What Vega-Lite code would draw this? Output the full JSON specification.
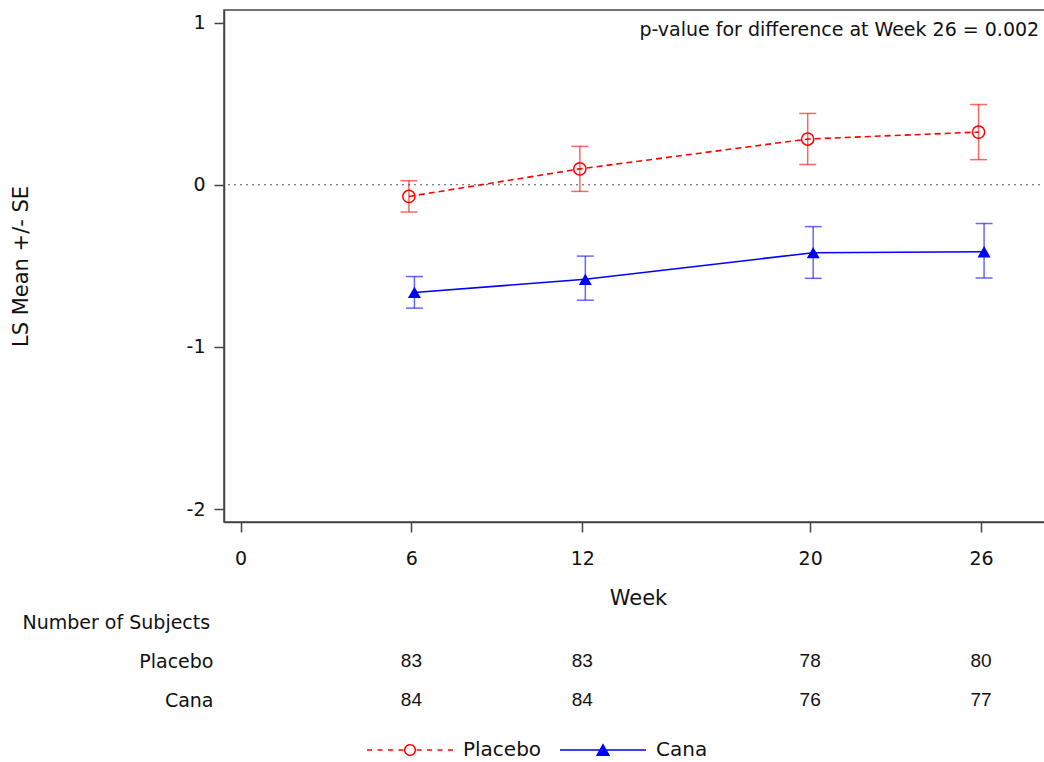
{
  "$schema": "https://vega.github.io/schema/vega-lite/v6.json",
  "autosize": {"type": "pad"},
  "padding": {"left": 9, "top": 9, "right": 0, "bottom": 0},
  "background": "white",
  "bounds": "flush",
  "spacing": 119.5,
  "datasets": {
    "lsm": [
      {"group": "Placebo", "week": 6, "mean": -0.072, "lo": -0.168, "hi": 0.025, "n": 83},
      {"group": "Placebo", "week": 12, "mean": 0.098, "lo": -0.041, "hi": 0.237, "n": 83},
      {"group": "Placebo", "week": 20, "mean": 0.282, "lo": 0.125, "hi": 0.44, "n": 78},
      {"group": "Placebo", "week": 26, "mean": 0.325, "lo": 0.155, "hi": 0.495, "n": 80},
      {"group": "Cana", "week": 6, "mean": -0.664, "lo": -0.761, "hi": -0.566, "n": 84},
      {"group": "Cana", "week": 12, "mean": -0.583, "lo": -0.712, "hi": -0.44, "n": 84},
      {"group": "Cana", "week": 20, "mean": -0.419, "lo": -0.577, "hi": -0.258, "n": 76},
      {"group": "Cana", "week": 26, "mean": -0.413, "lo": -0.575, "hi": -0.239, "n": 77}
    ]
  },
  "config": {
    "font": "DejaVu Sans",
    "view": {"stroke": "#444", "strokeWidth": 1.5},
    "axis": {
      "labelFont": "DejaVu Sans", "titleFont": "DejaVu Sans",
      "labelFontSize": 19, "titleFontSize": 21, "titleFontWeight": "normal",
      "labelColor": "#111", "titleColor": "#111",
      "domainColor": "#444", "domainWidth": 1.5,
      "tickColor": "#444", "tickWidth": 1.5, "tickSize": 10, "grid": false
    }
  },
  "resolve": {"scale": {"x": "independent", "y": "independent"}},
  "vconcat": [
    {
      "width": 828,
      "height": 512,
      "data": {"name": "lsm"},
      "encoding": {
        "x": {"type": "quantitative", "scale": {"domain": [-0.58, 28.49], "nice": false, "zero": false},
          "axis": {"values": [0, 6, 12, 20, 26], "title": "Week", "labelPadding": 17, "labelFlush": false, "titleY": 65, "titleBaseline": "top"}},
        "y": {"type": "quantitative", "scale": {"domain": [-2.08, 1.078], "nice": false, "zero": false},
          "axis": {"values": [-2, -1, 0, 1], "title": "LS Mean +/- SE", "labelPadding": 9,
            "labelExpr": "datum.value < 0 ? '-' + abs(datum.value) : '' + datum.value",
            "titleX": -196.5, "titleBaseline": "alphabetic"}}
      },
      "layer": [
        {
          "data": {"values": [{}]},
          "mark": {"type": "rule", "strokeDash": [2, 4], "color": "#555", "strokeWidth": 1},
          "encoding": {
            "y": {"datum": 0, "type": "quantitative", "scale": {"domain": [-2.08, 1.078], "nice": false, "zero": false},
              "axis": {"values": [-2, -1, 0, 1], "title": "LS Mean +/- SE", "labelPadding": 9,
                "labelExpr": "datum.value < 0 ? '-' + abs(datum.value) : '' + datum.value",
                "titleX": -196.5, "titleBaseline": "alphabetic"}}
          }
        },
        {
          "data": {"values": [{}]},
          "mark": {"type": "text", "text": "p-value for difference at Week 26 = 0.002", "align": "right", "baseline": "middle", "fontSize": 19, "font": "DejaVu Sans", "color": "#111"},
          "encoding": {
            "x": {"datum": 28.04, "type": "quantitative", "scale": {"domain": [-0.58, 28.49], "nice": false, "zero": false},
              "axis": {"values": [0, 6, 12, 20, 26], "title": "Week", "labelPadding": 17, "labelFlush": false, "titleY": 65, "titleBaseline": "top"}},
            "y": {"datum": 0.953, "type": "quantitative", "scale": {"domain": [-2.08, 1.078], "nice": false, "zero": false},
              "axis": {"values": [-2, -1, 0, 1], "title": "LS Mean +/- SE", "labelPadding": 9,
                "labelExpr": "datum.value < 0 ? '-' + abs(datum.value) : '' + datum.value",
                "titleX": -196.5, "titleBaseline": "alphabetic"}}
          }
        },
        {
          "transform": [{"filter": "datum.group === 'Placebo'"}],
          "layer": [
            {
              "mark": {"type": "rule", "color": "#ff0000", "opacity": 0.6, "strokeWidth": 1.5, "xOffset": -2.5},
              "encoding": {"x": {"field": "week"}, "y": {"field": "lo"}, "y2": {"field": "hi"}}
            },
            {
              "mark": {"type": "tick", "orient": "horizontal", "color": "#ff0000", "opacity": 0.6, "size": 17, "thickness": 1.5, "xOffset": -2.5},
              "encoding": {"x": {"field": "week"}, "y": {"field": "lo"}}
            },
            {
              "mark": {"type": "tick", "orient": "horizontal", "color": "#ff0000", "opacity": 0.6, "size": 17, "thickness": 1.5, "xOffset": -2.5},
              "encoding": {"x": {"field": "week"}, "y": {"field": "hi"}}
            },
            {
              "mark": {"type": "line", "strokeDash": [6, 4], "strokeWidth": 1.6, "xOffset": -2.5},
              "encoding": {
                "x": {"field": "week"},
                "y": {"field": "mean"},
                "color": {"field": "group", "type": "nominal",
                  "scale": {"domain": ["Placebo", "Cana"], "range": ["#ff0000", "#0000ff"]},
                  "legend": {"orient": "none", "legendX": 142, "legendY": 696, "direction": "horizontal", "title": null,
                    "symbolSize": 7396, "symbolStrokeWidth": 1.5, "labelFontSize": 20, "labelFont": "DejaVu Sans", "labelColor": "#111",
                    "labelOffset": 9, "columnPadding": 15, "padding": 0,
                    "encode": {"symbols": {"update": {
                      "shape": {"signal": "datum.value === 'Placebo' ? 'M-1,0H-0.884M-0.756,0H-0.64M-0.512,0H-0.396M-0.268,0H-0.152M0.152,0H0.268M0.396,0H0.512M0.64,0H0.756M0.884,0H1M0.123,0A0.123,0.123,0,1,1,-0.123,0A0.123,0.123,0,1,1,0.123,0Z' : 'M-1,0H1M0,-0.12L0.136,0.12L-0.136,0.12Z'"},
                      "fill": {"signal": "datum.value === 'Placebo' ? 'transparent' : '#0000ff'"},
                      "strokeDash": {"value": [1, 0]}
                    }}}}
                }
              }
            },
            {
              "mark": {"type": "point", "shape": "circle", "filled": false, "color": "#ff0000", "size": 150, "strokeWidth": 1.5, "opacity": 1, "xOffset": -2.5},
              "encoding": {"x": {"field": "week"}, "y": {"field": "mean"}}
            }
          ]
        },
        {
          "transform": [{"filter": "datum.group === 'Cana'"}],
          "layer": [
            {
              "mark": {"type": "rule", "color": "#0000ff", "opacity": 0.6, "strokeWidth": 1.5, "xOffset": 3},
              "encoding": {"x": {"field": "week"}, "y": {"field": "lo"}, "y2": {"field": "hi"}}
            },
            {
              "mark": {"type": "tick", "orient": "horizontal", "color": "#0000ff", "opacity": 0.6, "size": 17, "thickness": 1.5, "xOffset": 3},
              "encoding": {"x": {"field": "week"}, "y": {"field": "lo"}}
            },
            {
              "mark": {"type": "tick", "orient": "horizontal", "color": "#0000ff", "opacity": 0.6, "size": 17, "thickness": 1.5, "xOffset": 3},
              "encoding": {"x": {"field": "week"}, "y": {"field": "hi"}}
            },
            {
              "mark": {"type": "line", "strokeWidth": 1.6, "xOffset": 3},
              "encoding": {
                "x": {"field": "week"},
                "y": {"field": "mean"},
                "color": {"field": "group", "type": "nominal",
                  "scale": {"domain": ["Placebo", "Cana"], "range": ["#ff0000", "#0000ff"]},
                  "legend": {"orient": "none", "legendX": 142, "legendY": 696, "direction": "horizontal", "title": null,
                    "symbolSize": 7396, "symbolStrokeWidth": 1.5, "labelFontSize": 20, "labelFont": "DejaVu Sans", "labelColor": "#111",
                    "labelOffset": 9, "columnPadding": 15, "padding": 0,
                    "encode": {"symbols": {"update": {
                      "shape": {"signal": "datum.value === 'Placebo' ? 'M-1,0H-0.884M-0.756,0H-0.64M-0.512,0H-0.396M-0.268,0H-0.152M0.152,0H0.268M0.396,0H0.512M0.64,0H0.756M0.884,0H1M0.123,0A0.123,0.123,0,1,1,-0.123,0A0.123,0.123,0,1,1,0.123,0Z' : 'M-1,0H1M0,-0.12L0.136,0.12L-0.136,0.12Z'"},
                      "fill": {"signal": "datum.value === 'Placebo' ? 'transparent' : '#0000ff'"},
                      "strokeDash": {"value": [1, 0]}
                    }}}}
                }
              }
            },
            {
              "mark": {"type": "point", "shape": "triangle-up", "filled": true, "color": "#0000ff", "size": 170, "opacity": 1, "xOffset": 3},
              "encoding": {"x": {"field": "week"}, "y": {"field": "mean"}}
            }
          ]
        }
      ]
    },
    {
      "width": 828,
      "height": 78,
      "view": {"stroke": null},
      "data": {"name": "lsm"},
      "mark": {"type": "text", "font": "Liberation Sans", "fontSize": 19, "color": "#111", "baseline": "middle", "align": "center"},
      "encoding": {
        "x": {"field": "week", "type": "quantitative", "scale": {"domain": [-0.58, 28.49], "nice": false, "zero": false}, "axis": null},
        "y": {"field": "group", "type": "nominal", "scale": {"type": "point", "domain": ["Placebo", "Cana"], "padding": 0.5},
          "axis": {"title": "Number of Subjects", "titleAngle": 0, "titleAlign": "left", "titleBaseline": "middle",
            "titleX": -202, "titleY": -19.5, "titleFontSize": 19, "labelFontSize": 19, "labelPadding": 11,
            "ticks": false, "domain": false}},
        "text": {"field": "n", "type": "quantitative"}
      }
    }
  ]
}
